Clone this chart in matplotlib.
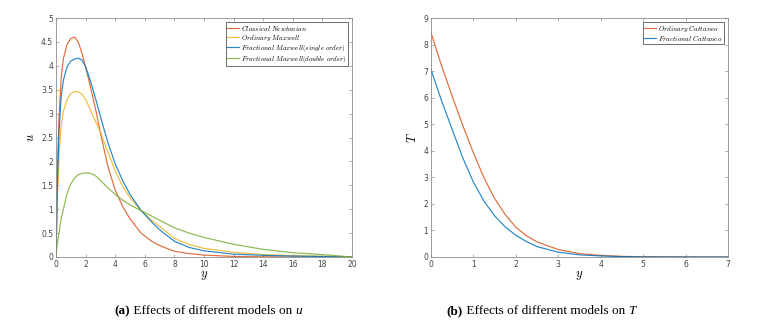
import numpy as np
import matplotlib
matplotlib.use('Agg')
import matplotlib.pyplot as plt

plt.rcParams['mathtext.fontset'] = 'cm'

# ---- (a) velocity profiles u(y) ----
y_a = [0, 0.1, 0.2, 0.35, 0.5, 0.75, 1, 1.25, 1.5, 1.75, 2, 2.25, 2.5, 2.75, 3, 3.5,
       4, 4.5, 5, 5.75, 6.5, 7, 8, 9, 10, 12, 14, 16, 18, 20]
u_newton = [0, 1.8, 2.9, 3.75, 4.15, 4.45, 4.57, 4.6, 4.5, 4.27, 3.97, 3.66, 3.33,
            2.98, 2.6, 1.9, 1.4, 1.06, 0.8, 0.5, 0.32, 0.24, 0.12, 0.07, 0.04,
            0.012, 0.004, 0.001, 0, 0]
u_maxwell = [0, 1.3, 2.1, 2.75, 3.05, 3.3, 3.42, 3.46, 3.46, 3.41, 3.3, 3.13, 2.95,
             2.79, 2.62, 2.2, 1.8, 1.48, 1.24, 0.97, 0.76, 0.64, 0.39, 0.26, 0.18,
             0.1, 0.05, 0.03, 0.015, 0]
u_frac_single = [0, 1.6, 2.6, 3.35, 3.7, 3.98, 4.1, 4.14, 4.16, 4.12, 3.98, 3.76, 3.5,
                 3.23, 2.94, 2.4, 1.95, 1.6, 1.31, 0.97, 0.72, 0.57, 0.33, 0.2, 0.13,
                 0.06, 0.035, 0.02, 0.01, 0]
u_frac_double = [0, 0.3, 0.5, 0.8, 1.0, 1.33, 1.53, 1.65, 1.72, 1.75, 1.76, 1.755, 1.73,
                 1.68, 1.6, 1.45, 1.31, 1.19, 1.09, 0.97, 0.85, 0.77, 0.61, 0.5, 0.41,
                 0.265, 0.16, 0.09, 0.05, 0]

# ---- (b) temperature profiles T(y) ----
y_b = [0, 0.25, 0.5, 0.75, 1, 1.25, 1.5, 1.75, 2, 2.25, 2.5, 3, 3.5, 4, 4.5, 5, 6, 7]
T_cattaneo = [8.45, 7.2, 6.05, 4.95, 3.92, 2.98, 2.2, 1.6, 1.12, 0.8, 0.57, 0.28, 0.13,
              0.06, 0.025, 0.01, 0.002, 0]
T_frac_cattaneo = [7.05, 5.88, 4.8, 3.73, 2.82, 2.1, 1.55, 1.13, 0.82, 0.58, 0.39, 0.18,
                   0.08, 0.04, 0.015, 0.005, 0.001, 0]

c_red = '#D95319'
c_yel = '#EDB120'
c_blu = '#0072BD'
c_grn = '#77AC30'

fig = plt.figure(figsize=(7.58, 3.25), dpi=100)
ax1 = fig.add_axes([56/758, 68/325, 296/758, 239/325])
ax2 = fig.add_axes([431/758, 68/325, 297/758, 239/325])

lw = 0.85
al = 0.85
ax1.plot(y_a, u_newton, color=c_red, lw=lw, alpha=al, label=r'$Classical\ Newtonian$')
ax1.plot(y_a, u_maxwell, color=c_yel, lw=lw, alpha=al, label=r'$Ordinary\ Maxwell$')
ax1.plot(y_a, u_frac_single, color=c_blu, lw=lw, alpha=al,
         label=r'$Fractional\ Maxwell(single\ order)$')
ax1.plot(y_a, u_frac_double, color=c_grn, lw=lw, alpha=al,
         label=r'$Fractional\ Maxwell(double\ order)$')
ax1.set_xlim(0, 20)
ax1.set_ylim(0, 5)
ax1.set_xticks(np.arange(0, 21, 2))
ax1.set_yticks(np.arange(0, 5.01, 0.5))
ax1.set_yticklabels(['0', '0.5', '1', '1.5', '2', '2.5', '3', '3.5', '4', '4.5', '5'])
ax1.set_xlabel(r'$y$', fontsize=9, labelpad=0)
ax1.set_ylabel(r'$u$', fontsize=9, labelpad=3)

ax2.plot(y_b, T_cattaneo, color=c_red, lw=lw, alpha=al, label=r'$Ordinary\ Cattaneo$')
ax2.plot(y_b, T_frac_cattaneo, color=c_blu, lw=lw, alpha=al, label=r'$Fractional\ Cattaneo$')
ax2.set_xlim(0, 7)
ax2.set_ylim(0, 9)
ax2.set_xticks(range(0, 8))
ax2.set_yticks(range(0, 10))
ax2.set_xlabel(r'$y$', fontsize=9, labelpad=0)
ax2.set_ylabel(r'$T$', fontsize=9, labelpad=3)

for ax in (ax1, ax2):
    for s in ax.spines.values():
        s.set_color('#8c8c8c')
        s.set_linewidth(0.6)
    ax.tick_params(direction='in', top=True, right=True, length=2.5, width=0.5,
                   colors='#8c8c8c', labelcolor='#444444', labelsize=5.5, pad=2)
    leg = ax.legend(loc='upper right', fontsize=5, fancybox=False, framealpha=1,
                    edgecolor='#333333', handlelength=1.7, handletextpad=0.3,
                    borderpad=0.2, labelspacing=0.0, borderaxespad=0.6)
    leg.get_frame().set_linewidth(0.5)

# captions: bold label, roman text, italic symbol, laid out piece by piece
def caption(xc, parts):
    fig.canvas.draw()
    r = fig.canvas.get_renderer()
    texts = [fig.text(0, 1 - 311/325, s, va='center', fontsize=9.5,
                      family='Liberation Serif', weight=w, style=st)
             for s, w, st in parts]
    widths = [t.get_window_extent(r).width for t in texts]
    x = xc - sum(widths) / 2
    for t, w in zip(texts, widths):
        t.set_x(x / 758)
        x += w

caption(208, [('(a)', 'bold', 'normal'), (' Effects of different models on ', 'normal', 'normal'),
              ('u', 'normal', 'italic')])
caption(541, [('(b)', 'bold', 'normal'), (' Effects of different models on ', 'normal', 'normal'),
              ('T', 'normal', 'italic')])

fig.savefig('out.png', dpi=100)
